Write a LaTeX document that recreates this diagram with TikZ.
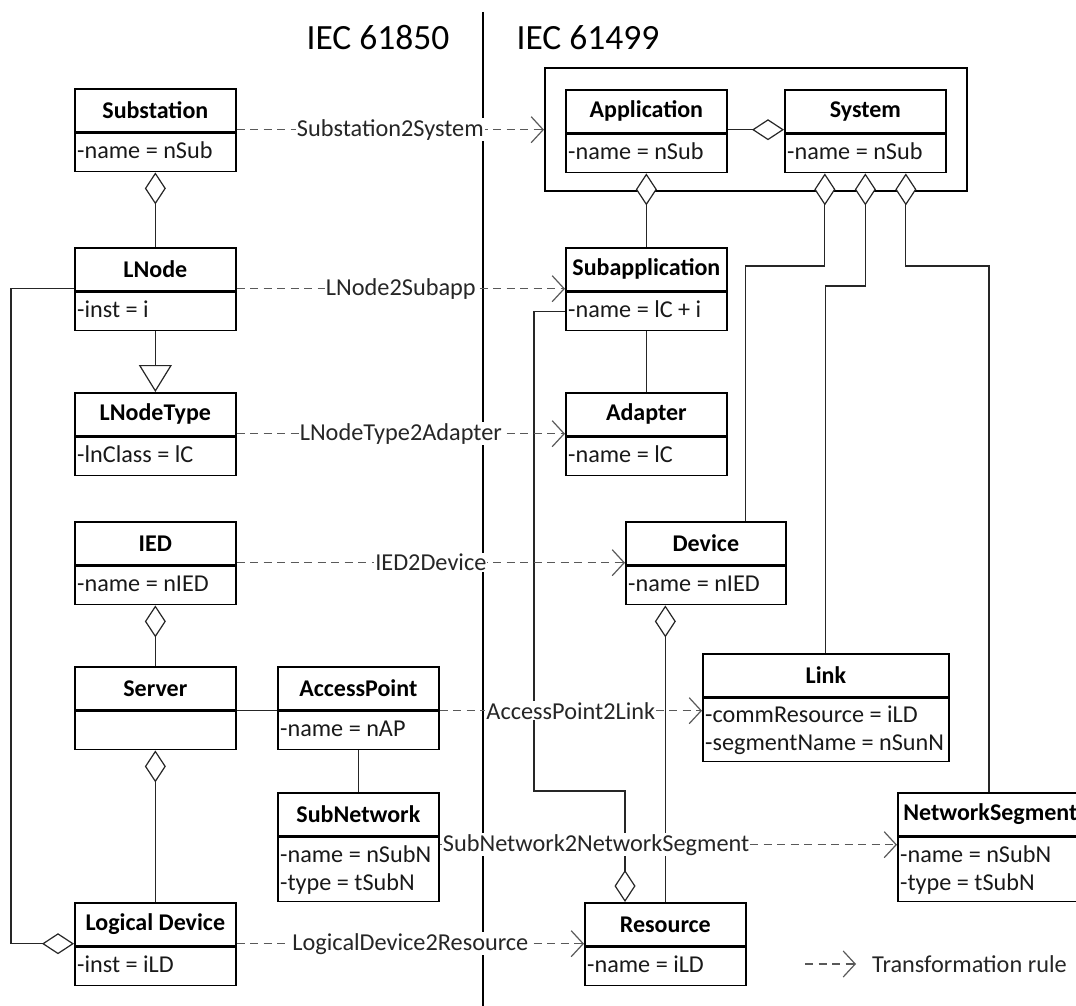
\documentclass[tikz,border=0pt]{standalone}
\usepackage{fontspec}
\setmainfont{Carlito}
\usetikzlibrary{arrows.meta,calc}

\tikzset{
  box/.style={draw=black, line width=1.7pt, inner sep=0pt, anchor=north west},
  hdr/.style={box, minimum height=43pt, font=\bfseries\fontsize{24}{29}\selectfont},
  attrbox/.style={box},
  attrmulti/.style={anchor=west, inner xsep=3pt, inner ysep=0pt, align=left,
    text=black!90, font=\fontsize{24.2}{28}\selectfont},
  attrone/.style={attrmulti, text height=16.5pt, text depth=5.5pt},
  conn/.style={draw=black!85, line width=1.2pt},
  agg/.style={conn, -{Diamond[fill=white, length=32pt, width=21pt]}},
  gen/.style={conn, -{Triangle[fill=white, length=27pt, width=33pt]}},
  rule/.style={draw=black!65, line width=1.2pt, dash pattern=on 8pt off 5.5pt,
    -{Straight Barb[length=12pt, width=26pt]}},
  lbl/.style={fill=white, inner sep=1pt, text=black!85, font=\fontsize{24.3}{28}\selectfont},
  stdtitle/.style={font=\fontsize{35.5}{42}\selectfont},
}

% UML class: [text style], name, x, y, width, title, attribute height, attributes
\newcommand\umlclass[8][attrone]{%
  \node[hdr, minimum width=#5pt] (#2) at (#3,#4) {#6};
  \node[attrbox, minimum width=#5pt, minimum height=#7pt] (#2a) at (#2.south west) {};
  \node[#1] (#2t) at (#2a.west) {#8};
}

\begin{document}
\begin{tikzpicture}[x=1pt, y=-1pt]
\useasboundingbox (0,0) rectangle (1076,1006);

% separator between the two standards
\coordinate (septop) at (483,12);
\coordinate (sepbot) at (483,1006);
\draw[line width=2.6pt] (septop) -- (sepbot);
\node[stdtitle] (std1) at (378,38) {IEC 61850};
\node[stdtitle] (std2) at (588,38) {IEC 61499};

% frame around Application and System
\node[box, minimum width=422pt, minimum height=123pt] (frame) at (544,67) {};

% IEC 61850 classes
\umlclass{sub}{74}{88}{161}{Substation}{38}{-name = nSub}
\umlclass{lnode}{74}{247}{161}{LNode}{38}{-inst = i}
\umlclass{lnt}{74}{392}{161}{LNodeType}{38}{-lnClass = lC}
\umlclass{ied}{74}{521}{161}{IED}{38}{-name = nIED}
\umlclass{server}{74}{666}{161}{Server}{38}{}
\umlclass{ap}{277}{666}{161}{AccessPoint}{38}{-name = nAP}
\umlclass[attrmulti]{subnet}{277}{792}{161}{SubNetwork}{64}{-name = nSubN\\-type = tSubN}
\umlclass{ld}{74}{902}{161}{Logical Device}{38}{-inst = iLD}

% IEC 61499 classes
\umlclass{app}{565}{89}{161}{Application}{38}{-name = nSub}
\umlclass{sys}{784}{89}{161}{System}{38}{-name = nSub}
\umlclass{subapp}{565}{247}{161}{Subapplication}{38}{-name = lC + i}
\umlclass{adapter}{565}{392}{161}{Adapter}{38}{-name = lC}
\umlclass{device}{625}{521}{160}{Device}{38}{-name = nIED}
\umlclass[attrmulti]{link}{702}{653}{246}{Link}{63}{-commResource = iLD\\-segmentName = nSunN}
\umlclass[attrmulti]{netseg}{897}{792}{185}{NetworkSegment}{64}{-name = nSubN\\-type = tSubN}
\umlclass{res}{584}{902}{161}{Resource}{38}{-name = iLD}

% IEC 61850 relations
\draw[agg] (lnode.north) -- (suba.south);
\draw[gen] (lnodea.south) -- (lnt.north);
\draw[agg] (server.north) -- (ieda.south);
\draw[agg] (ld.north) -- (servera.south);
\draw[conn] (server.south east) -- (ap.south west);
\draw[conn] (apa.south) -- (subnet.north);
\coordinate (lbus) at (11,0);
\coordinate (lnOut) at ($(lnode.south west)+(0,-3)$);
\coordinate (ldIn) at ($(ld.south west)+(0,-3)$);
\draw[agg] (lnOut) -- (lnOut -| lbus) |- (ldIn);

% IEC 61499 relations
\coordinate (appOut) at ($(app.south east)+(0,-4)$);
\draw[agg] (appOut) -- (appOut -| sys.west);
\draw[agg] (subapp.north) -- (appa.south);
\draw[conn] (subappa.south) -- (adapter.north);
\coordinate (bendHi) at (0,266);
\coordinate (bendLo) at (0,286);
\coordinate (s1) at ($(sysa.south)+(-40.5,0)$);
\coordinate (s3) at ($(sysa.south)+(40.5,0)$);
\coordinate (devIn) at ($(device.north east)+(-41,0)$);
\coordinate (nsIn) at ($(netseg.north west)+(92,0)$);
\draw[agg] (devIn) |- (s1 |- bendHi) -- (s1);
\draw[agg] (link.north) |- (sysa.south |- bendLo) -- (sysa.south);
\draw[agg] (nsIn) |- (s3 |- bendHi) -- (s3);
\coordinate (bendC) at (534,791);
\coordinate (resIn) at ($(res.north west)+(41,0)$);
\draw[agg] (subappa.west) -| (bendC) -| (resIn);
\draw[agg] (res.north) -- (res.north |- devicea.south);

% transformation rules
\coordinate (subOut) at ($(suba.north east)+(0,-3)$);
\draw[rule] (subOut) -- node[lbl] (r1) {Substation2System} (frame.west |- subOut);
\coordinate (lnRule) at ($(lnodea.north east)+(0,-3)$);
\draw[rule] (lnRule) -- node[lbl] (r2) {LNode2Subapp} (subapp.west |- lnRule);
\coordinate (lntRule) at ($(lnta.north east)+(0,-3)$);
\draw[rule] (lntRule) -- node[lbl] (r3) {LNodeType2Adapter} (adapter.west |- lntRule);
\coordinate (iedRule) at ($(ieda.north east)+(0,-3)$);
\draw[rule] (iedRule) -- node[lbl] (r4) {IED2Device} (device.west |- iedRule);
\draw[rule] (apa.north east) -- node[lbl] (r5) {AccessPoint2Link} (link.west |- apa.north east);
\coordinate (sn1) at ($(subneta.north east)+(0,8)$);
\draw[rule] (sn1) -- node[lbl, pos=0.342] (r6) {SubNetwork2NetworkSegment} (netseg.west |- sn1);
\coordinate (ldRule) at ($(lda.north east)+(0,-3)$);
\draw[rule] (ldRule) -- node[lbl] (r7) {LogicalDevice2Resource} (res.west |- ldRule);

% legend
\coordinate (lg1) at (805,964);
\node[anchor=west, inner sep=0pt, text=black!85, font=\fontsize{24.3}{28}\selectfont] (legend) at (872,964) {Transformation rule};
\draw[rule] (lg1) -- ($(legend.west)+(-16,0)$);
\end{tikzpicture}
\end{document}
